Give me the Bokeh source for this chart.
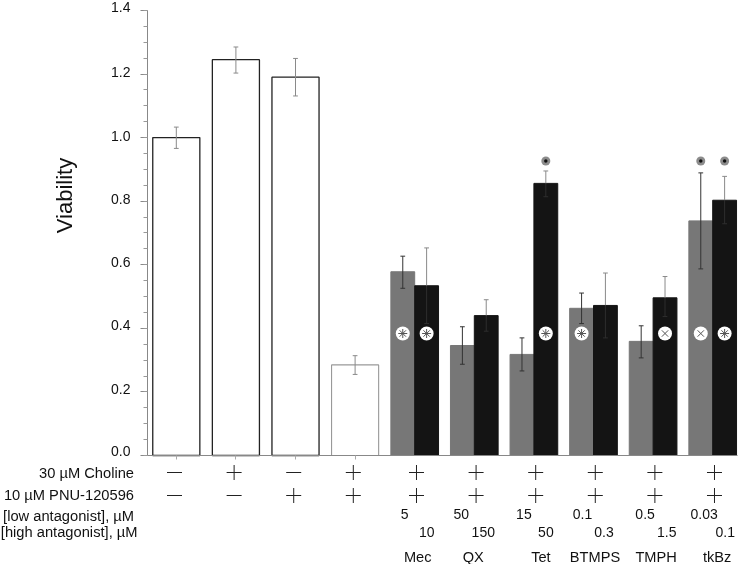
from bokeh.embed import file_html
from bokeh.resources import INLINE
from bokeh.plotting import figure
from bokeh.models import Range1d, LinearAxis, FixedTicker, ColumnDataSource
from bokeh.core.properties import value

FONT = "Liberation Sans"

# --- data ---
single_values = [1.0, 1.245, 1.19, 0.285]
single_hi = [1.033, 1.285, 1.249, 0.314]
single_lo = [0.966, 1.203, 1.131, 0.255]

drugs = ["Mec", "QX", "Tet", "BTMPS", "TMPH", "tkBz"]
low_values = [0.578, 0.346, 0.318, 0.463, 0.359, 0.738]
low_hi = [0.627, 0.405, 0.370, 0.511, 0.408, 0.889]
low_lo = [0.526, 0.287, 0.266, 0.415, 0.307, 0.587]
high_values = [0.534, 0.440, 0.856, 0.472, 0.496, 0.803]
high_hi = [0.653, 0.490, 0.895, 0.574, 0.563, 0.878]
high_lo = [0.415, 0.391, 0.814, 0.370, 0.437, 0.729]

choline = ["-", "+", "-", "+", "+", "+", "+", "+", "+", "+"]
pnu = ["-", "-", "+", "+", "+", "+", "+", "+", "+", "+"]
low_conc = ["5", "50", "15", "0.1", "0.5", "0.03"]
high_conc = ["10", "150", "50", "0.3", "1.5", "0.1"]
row_names = ["30 µM Choline", "10 µM PNU-120596", "[low antagonist], µM", "[high antagonist], µM"]
tick_values = [0, 0.2, 0.4, 0.6, 0.8, 1.0, 1.2, 1.4]
tick_labels = ["0.0", "0.2", "0.4", "0.6", "0.8", "1.0", "1.2", "1.4"]

# significance marks: (group index, dose, symbol)
in_bar_group = [4, 4, 6, 7, 8, 9, 9]
in_bar_side = [-1, 1, 1, -1, 1, -1, 1]
in_bar_kind = ["asterisk", "asterisk", "asterisk", "asterisk", "x", "x", "asterisk"]
star_group = [6, 9, 9]
star_side = [1, -1, 1]

# --- layout helpers ---
W, H = 744, 564
PX0, PXU = 175.8, 59.6   # x pixel of group 0, pixels per group
PY0, PYU = 455.0, 317.9  # y pixel of value 0, pixels per 1.0


def row_y(py):
    return (PY0 - py) / PYU


def col_x(px):
    return (px - PX0) / PXU


p = figure(width=W, height=H, output_backend="svg", toolbar_location=None,
           x_range=Range1d(col_x(0), col_x(W)), y_range=Range1d(row_y(H), row_y(0)),
           min_border=0, min_border_left=0, min_border_right=0, min_border_top=0, min_border_bottom=0,
           x_axis_type=None, y_axis_type=None, outline_line_color=None)
p.grid.visible = False
p.styles = {"position": "fixed", "left": "0px", "top": "0px"}

BW = 0.4
W1 = 0.79

# bars
xs_single = list(range(4))
p.vbar(x=xs_single[:3], top=single_values[:3], width=W1, fill_color="white", line_color="#222222", line_width=1.3)
p.vbar(x=xs_single[3:], top=single_values[3:], width=W1, fill_color="white", line_color="#999999", line_width=1.1)
groups = [4 + i for i in range(6)]
xl = [g - BW / 2 for g in groups]
xh = [g + BW / 2 for g in groups]
p.vbar(x=xl, top=low_values, width=BW, fill_color="#777777", line_color="#777777", line_width=1)
p.vbar(x=xh, top=high_values, width=BW, fill_color="#141414", line_color="#141414", line_width=1)


def whisk(x, lo, hi, color, lw=1.0, caps=(True, True)):
    p.segment(x0=x, y0=lo, x1=x, y1=hi, line_color=color, line_width=lw)
    cw = 0.04
    if caps[1]:
        p.segment(x0=[a - cw for a in x], y0=hi, x1=[a + cw for a in x], y1=hi, line_color=color, line_width=lw)
    if caps[0]:
        p.segment(x0=[a - cw for a in x], y0=lo, x1=[a + cw for a in x], y1=lo, line_color=color, line_width=lw)


whisk(xs_single, single_lo, single_hi, "#8a8a8a")
whisk(xl, low_lo, low_hi, "#333333")
whisk(xh, high_values, high_hi, "#8a8a8a", caps=(False, True))
whisk(xh, high_lo, high_values, "#2e2e2e", caps=(True, False))

# in-bar markers
mx = [g + s * BW / 2 for g, s in zip(in_bar_group, in_bar_side)]
my = [row_y(333)] * len(mx)
p.scatter(mx, my, marker="circle", size=14, fill_color="white", line_color=None)
p.scatter(mx, my, marker=in_bar_kind, size=9, line_color="#555555", fill_color=None, line_width=1)

# significance dots
sx = [g + s * BW / 2 for g, s in zip(star_group, star_side)]
sy = [row_y(160.5)] * len(sx)
p.scatter(sx, sy, marker="circle", size=9, fill_color="#8c8c8c", line_color=None)
p.scatter(sx, sy, marker="circle", size=3.5, fill_color="#111111", line_color=None)

# axes
yax = LinearAxis(fixed_location=col_x(146.5), bounds=(0, 1.4),
                 ticker=FixedTicker(ticks=tick_values, minor_ticks=[i * 0.05 for i in range(29)]))
yax.axis_line_color = "#888888"
yax.major_tick_line_color = "#888888"
yax.minor_tick_line_color = "#999999"
yax.major_tick_out = 7
yax.major_tick_in = 0
yax.minor_tick_out = 4
yax.minor_tick_in = 0
yax.major_label_text_font_size = "0px"
yax.major_label_text_color = None
p.add_layout(yax, "left")

# tick labels sit slightly above their ticks in the reference
tick_dy = [-5, -3, -3, -2.5, -2.5, -2, -2, -3]
p.text(x=[col_x(130)] * len(tick_values), y=tick_values, text=tick_labels, y_offset=tick_dy,
       text_align="right", text_baseline="middle", text_font=value(FONT), text_font_size="14px",
       text_color="#111111")

xax = LinearAxis(fixed_location=0, bounds=(col_x(146.5), col_x(737)), ticker=FixedTicker(ticks=xs_single))
xax.axis_line_color = "#888888"
xax.major_tick_line_color = "#aaaaaa"
xax.major_tick_out = 4
xax.major_tick_in = 0
xax.minor_tick_line_color = None
xax.major_label_text_font_size = "0px"
xax.major_label_text_color = None
p.add_layout(xax, "below")

# y title
p.text(x=[col_x(64)], y=[row_y(195)], text=["Viability"], angle=1.5708, text_align="center",
       text_baseline="middle", text_font=value(FONT), text_font_size="22px", text_color="#111111")

# row labels
row_px = [472, 494.5, 515, 531.5]
row_right = [133.5, 133.5, 133.5, 137]
for name, py, pr in zip(row_names, row_px, row_right):
    p.text(x=[col_x(pr)], y=[row_y(py)], text=[name], text_align="right", text_baseline="middle",
           text_font=value(FONT), text_font_size="14.7px", text_color="#111111")

# + / - rows
for states, py in [(choline, 472), (pnu, 495)]:
    xp = [i - 0.03 if i < 4 else i + 0.03 for i, s in enumerate(states) if s == "+"]
    xm = [i - 0.03 for i, s in enumerate(states) if s == "-"]
    yy = row_y(py)
    p.scatter(xp, [yy] * len(xp), marker="cross", size=15, line_color="#222222", line_width=1)
    p.scatter(xm, [yy] * len(xm), marker="dash", size=15, line_color="#222222", line_width=1)

# concentrations and names
low_dx = [-10, -13, -10, -11, -8, -8.5]
high_dx = [12, 9, 12, 10.5, 13.7, 12.5]
name_dx = [3, -1, 7, 1.5, 3, 4.5]
for texts, dxs, py, fs in [(low_conc, low_dx, 513.5, "14px"), (high_conc, high_dx, 531, "14px"),
                           (drugs, name_dx, 556, "14.6px")]:
    src = ColumnDataSource(dict(x=groups, y=[row_y(py)] * 6, t=texts, dx=dxs))
    p.text(x="x", y="y", text="t", x_offset="dx", source=src, text_align="center", text_baseline="middle",
           text_font=value(FONT), text_font_size=fs, text_color="#111111")

open("out.html", "w").write(file_html(p, INLINE))
